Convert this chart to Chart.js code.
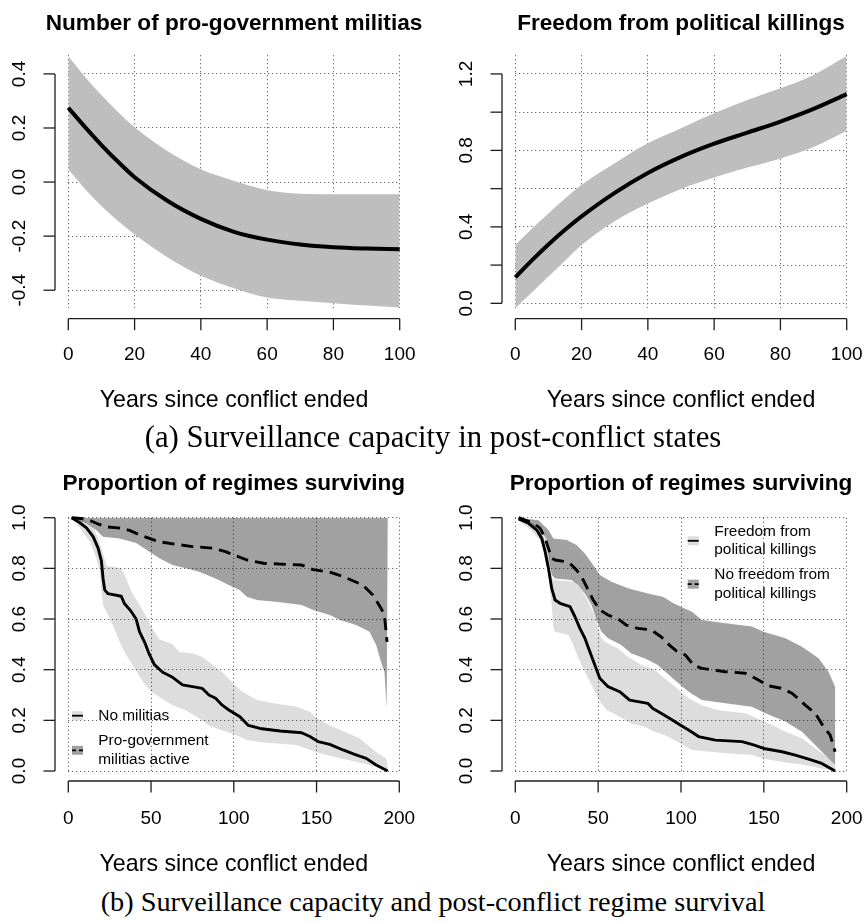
<!DOCTYPE html>
<html><head><meta charset="utf-8">
<script src="https://cdn.jsdelivr.net/npm/chart.js@4"></script>
<style>
html,body{margin:0;padding:0;background:#fff;width:866px;height:923px;overflow:hidden;position:relative;}
canvas{position:absolute;}
.cap{position:absolute;left:0;width:866px;text-align:center;font-family:"Liberation Serif",serif;color:#000;white-space:nowrap;z-index:5;}
</style></head><body>
<canvas id="c1"></canvas>
<canvas id="c2"></canvas>
<canvas id="c3"></canvas>
<canvas id="c4"></canvas>
<div class="cap" id="capA">(a) Surveillance capacity in post-conflict states</div>
<div class="cap" id="capB">(b) Surveillance capacity and post-conflict regime survival</div>
<script>
// ---------------- DATA ----------------
// Panel (a) left/right: x = years since conflict ended
const yearsTop = [0, 5, 10, 15, 20, 30, 40, 50, 60, 70, 80, 90, 100];
const militiaMean  = [0.275, 0.204, 0.137, 0.075, 0.018, -0.070, -0.136, -0.184, -0.213, -0.231, -0.241, -0.246, -0.249];
const militiaUpper = [0.465, 0.390, 0.322, 0.259, 0.203, 0.114, 0.047, 0.004, -0.030, -0.043, -0.045, -0.045, -0.045];
const militiaLower = [0.047, -0.025, -0.089, -0.144, -0.193, -0.279, -0.347, -0.393, -0.427, -0.439, -0.448, -0.457, -0.464];
const killingsMean  = [0.136, 0.225, 0.308, 0.385, 0.455, 0.578, 0.682, 0.766, 0.835, 0.893, 0.951, 1.017, 1.094];
const killingsUpper = [0.305, 0.390, 0.470, 0.548, 0.620, 0.733, 0.837, 0.916, 0.994, 1.064, 1.125, 1.195, 1.294];
const killingsLower = [-0.026, 0.056, 0.140, 0.223, 0.305, 0.430, 0.522, 0.598, 0.658, 0.710, 0.758, 0.818, 0.902];

// Panel (b) left: survival curves [years, proportion]
const noMilitiasLine = [[2,1.0],[7,0.98],[11,0.96],[15,0.925],[18,0.88],[20,0.83],[21,0.76],[22,0.715],[24,0.70],[32,0.69],[34,0.66],[38,0.63],[41,0.60],[43,0.55],[46,0.51],[49,0.46],[52,0.42],[57,0.39],[63,0.37],[69,0.34],[81,0.326],[85,0.30],[89,0.287],[93,0.26],[97,0.241],[103.7,0.214],[108.8,0.18],[115.8,0.168],[128,0.158],[141,0.151],[146,0.136],[151,0.116],[158,0.105],[166,0.083],[173,0.066],[180,0.05],[186,0.024],[193,0.0]];
const noMilitiasUpper = [[2,1.0],[10,0.99],[15,0.96],[18,0.92],[21,0.86],[23,0.81],[32,0.80],[35,0.76],[38,0.71],[43,0.655],[48,0.60],[52,0.55],[55,0.52],[63,0.50],[67,0.47],[75,0.465],[81,0.45],[87,0.42],[93,0.39],[99,0.35],[105,0.313],[114,0.28],[124,0.267],[138,0.254],[146,0.234],[150,0.208],[158,0.18],[167,0.155],[176,0.129],[182,0.096],[187,0.07],[192,0.05],[193,0.02]];
const noMilitiasLower = [[2,1.0],[7,0.96],[13,0.905],[17,0.84],[19,0.787],[20,0.71],[21,0.655],[24,0.616],[28,0.56],[31,0.51],[35,0.458],[40,0.405],[45,0.353],[50,0.313],[55,0.293],[63,0.26],[71,0.24],[79,0.208],[85,0.18],[93,0.16],[99,0.148],[108,0.122],[118,0.113],[138,0.103],[146,0.083],[154,0.066],[164,0.05],[174,0.037],[182,0.024],[190,0.01],[193,0.0]];
const militiasLine = [[2,1.0],[11,0.995],[17,0.978],[23,0.964],[30,0.96],[37,0.95],[44,0.93],[49,0.918],[55,0.905],[65,0.895],[75,0.886],[87,0.88],[95,0.866],[100,0.853],[108,0.833],[118,0.82],[141,0.813],[148,0.795],[158,0.785],[166,0.768],[178,0.734],[184,0.695],[189,0.642],[191,0.616],[192.6,0.51]];
const militiasUpper = [[2,1.0],[193,1.0]];
const militiasLower = [[2,1.0],[11,0.978],[17,0.95],[21,0.925],[31,0.918],[41,0.90],[49,0.866],[55,0.84],[63,0.813],[71,0.80],[79,0.787],[89,0.76],[97,0.734],[103.7,0.714],[107.8,0.688],[114,0.675],[128,0.666],[141,0.655],[148,0.636],[158,0.616],[164,0.596],[174,0.576],[182,0.55],[186,0.497],[189,0.43],[191,0.392],[192.4,0.247]];

// Panel (b) right
const freedomLine = [[2,0.995],[8,0.978],[13,0.951],[16,0.918],[18,0.866],[20,0.80],[22,0.72],[24,0.675],[27,0.662],[33,0.649],[36,0.609],[39,0.563],[42,0.524],[45,0.471],[48,0.418],[51,0.366],[56,0.333],[63,0.313],[69,0.28],[80,0.267],[83,0.247],[88,0.228],[95,0.20],[100,0.18],[104.6,0.162],[110.6,0.136],[120.7,0.122],[136.8,0.116],[143.8,0.103],[149.9,0.089],[161,0.076],[169,0.063],[177,0.047],[185,0.03],[193,0.0]];
const freedomUpper = [[2,1.0],[14,0.97],[19,0.918],[21,0.853],[22,0.76],[24,0.754],[36,0.747],[40,0.72],[43,0.68],[46,0.642],[49,0.596],[51,0.543],[52,0.524],[54,0.51],[62,0.484],[68,0.451],[76,0.418],[84,0.40],[90,0.366],[97,0.33],[104.6,0.287],[112.6,0.26],[122.7,0.24],[138.8,0.228],[145.8,0.208],[154.9,0.182],[163,0.155],[173,0.129],[181,0.089],[188,0.057],[193,0.024]];
const freedomLower = [[2,0.99],[8,0.958],[14,0.918],[18,0.866],[20,0.774],[22,0.655],[23,0.563],[24,0.55],[32,0.537],[35,0.497],[38,0.445],[42,0.392],[46,0.34],[51,0.274],[55,0.241],[63,0.214],[70,0.188],[78,0.175],[84,0.155],[90,0.142],[97,0.118],[106.6,0.083],[126.8,0.07],[142.8,0.063],[150.9,0.047],[163,0.034],[175,0.024],[185,0.01],[193,0.0]];
const noFreedomLine = [[2,1.0],[11,0.978],[15,0.958],[18,0.918],[20,0.879],[22,0.84],[24,0.833],[31,0.826],[34,0.813],[37,0.793],[40,0.767],[43,0.728],[47,0.675],[51,0.636],[56,0.616],[63,0.596],[67,0.576],[74,0.563],[82,0.557],[88,0.53],[93,0.497],[97,0.475],[102.6,0.458],[107.6,0.418],[112.6,0.405],[126.8,0.392],[138.8,0.386],[144.8,0.366],[152.9,0.336],[161,0.326],[167,0.307],[175,0.26],[181,0.228],[186,0.175],[190,0.142],[193,0.076]];
const noFreedomUpper = [[2,1.0],[14,0.99],[20,0.951],[23,0.918],[31,0.912],[37,0.892],[42,0.859],[47,0.813],[51,0.774],[58,0.747],[68,0.721],[80,0.701],[89,0.688],[96,0.66],[106.6,0.629],[112.6,0.596],[126.8,0.583],[142.8,0.57],[149.9,0.55],[163,0.524],[173,0.491],[183,0.445],[189,0.392],[193,0.333]];
const noFreedomLower = [[2,0.99],[14,0.958],[19,0.918],[20,0.853],[22,0.774],[24,0.76],[34,0.754],[38,0.734],[42,0.701],[46,0.655],[49,0.596],[52,0.55],[56,0.524],[64,0.497],[70,0.464],[78,0.445],[86,0.418],[96,0.36],[104.6,0.313],[112.6,0.28],[126.8,0.267],[142.8,0.254],[150.9,0.228],[163,0.195],[173,0.155],[181,0.103],[187,0.063],[193,0.024]];

// Ticks and labels
const xTicksTop = [0, 20, 40, 60, 80, 100];
const xLabelsTop = ['0', '20', '40', '60', '80', '100'];
const xTicksBottom = [0, 50, 100, 150, 200];
const xLabelsBottom = ['0', '50', '100', '150', '200'];
const yTicksMilitia = [-0.4, -0.2, 0, 0.2, 0.4];
const yLabelsMilitia = ['-0.4', '-0.2', '0.0', '0.2', '0.4'];
const yTicksKillings = [0, 0.2, 0.4, 0.6, 0.8, 1.0, 1.2];
const yLabelsKillings = ['0.0', '', '0.4', '', '0.8', '', '1.2'];
const yTicksSurv = [0, 0.2, 0.4, 0.6, 0.8, 1.0];
const yLabelsSurv = ['0.0', '0.2', '0.4', '0.6', '0.8', '1.0'];

const titles = ['Number of pro-government militias', 'Freedom from political killings', 'Proportion of regimes surviving', 'Proportion of regimes surviving'];
const xAxisTitle = 'Years since conflict ended';
const legendLeft = [['No militias'], ['Pro-government', 'militias active']];
const legendRight = [['Freedom from', 'political killings'], ['No freedom from', 'political killings']];

// ---------------- HELPERS ----------------
const SANS = '"Liberation Sans", Arial, Helvetica, sans-serif';
const toXY = (xs, ys) => xs.map((x, i) => ({x: x, y: ys[i]}));
const pairs = (arr) => arr.map(p => ({x: p[0], y: p[1]}));
const polygon = (upper, lower) => pairs(upper).concat(pairs(lower).reverse());

const rStyle = {
  id: 'rStyle',
  afterDraw(chart, args, o) {
    const ctx = chart.ctx, xs = chart.scales.x, ys = chart.scales.y, ca = chart.chartArea;
    ctx.save();
    ctx.strokeStyle = '#1e1e1e'; ctx.fillStyle = '#000'; ctx.lineWidth = 1.3; ctx.setLineDash([]);
    const seg = (x1, y1, x2, y2) => { ctx.beginPath(); ctx.moveTo(x1, y1); ctx.lineTo(x2, y2); ctx.stroke(); };
    // y axis
    const ax = ca.left - o.yAxisGap;
    const yv = ys.ticks.map(t => t.value);
    seg(ax, ys.getPixelForValue(Math.max(...yv)), ax, ys.getPixelForValue(Math.min(...yv)));
    ctx.font = '19px ' + SANS;
    ys.ticks.forEach((t, i) => {
      const py = ys.getPixelForValue(t.value);
      seg(ax - o.tickLen, py, ax, py);
      const lab = o.yLabels[i];
      if (lab) {
        ctx.save(); ctx.translate(ax - o.yLabelOffset, py); ctx.rotate(-Math.PI / 2);
        ctx.textAlign = 'center'; ctx.textBaseline = 'middle'; ctx.fillText(lab, 0, 0); ctx.restore();
      }
    });
    // x axis
    const xv = xs.ticks.map(t => t.value);
    seg(xs.getPixelForValue(Math.min(...xv)), o.axisY, xs.getPixelForValue(Math.max(...xv)), o.axisY);
    ctx.textAlign = 'center'; ctx.textBaseline = 'middle';
    xs.ticks.forEach((t, i) => {
      const px = xs.getPixelForValue(t.value);
      seg(px, o.axisY, px, o.axisY + o.tickLen);
      ctx.fillText(o.xLabels[i], px, o.tickLabelY);
    });
    const cx = (ca.left + ca.right) / 2;
    ctx.font = '23.2px ' + SANS;
    ctx.fillText(o.xTitle, cx, o.xTitleY);
    ctx.font = 'bold 22.6px ' + SANS;
    ctx.fillText(o.title, cx, o.titleY);
    // legend
    if (o.legend) {
      const L = o.legend;
      ctx.font = '15.4px ' + SANS; ctx.textAlign = 'left';
      L.items.forEach((it, i) => {
        const cy = L.ys[i];
        ctx.fillStyle = it.fill;
        ctx.fillRect(L.x, cy - 4.5, 11, 9);
        ctx.strokeStyle = '#000'; ctx.lineWidth = 1.8; ctx.setLineDash(it.dash);
        seg(L.x, cy, L.x + 11, cy);
        ctx.setLineDash([]);
        ctx.fillStyle = '#000';
        const n = it.lines.length;
        it.lines.forEach((s, k) => ctx.fillText(s, L.textX, cy + (k - (n - 1) / 2) * 18.5));
      });
    }
    ctx.restore();
  }
};

function gridScale(min, max, ticks) {
  return {
    type: 'linear', min: min, max: max,
    afterBuildTicks: (axis) => { axis.ticks = ticks.map(v => ({value: v})); },
    ticks: {display: false},
    grid: {display: true, drawTicks: false, color: '#6e6e6e', lineWidth: 1},
    border: {display: false, dash: [1.3, 2.7]}
  };
}

function makePanel(id, P) {
  const cv = document.getElementById(id);
  cv.width = P.canvas.w; cv.height = P.canvas.h;
  cv.style.left = P.canvas.x + 'px'; cv.style.top = P.canvas.y + 'px';
  cv.style.width = P.canvas.w + 'px'; cv.style.height = P.canvas.h + 'px';
  const pad = {
    left: P.area.l - P.canvas.x, right: P.canvas.x + P.canvas.w - P.area.r,
    top: P.area.t - P.canvas.y, bottom: P.canvas.y + P.canvas.h - P.area.b
  };
  return new Chart(cv, {
    type: 'line',
    data: {datasets: P.datasets},
    options: {
      responsive: false, animation: false, devicePixelRatio: 1, events: [],
      layout: {padding: pad},
      scales: {x: gridScale(P.xMin, P.xMax, P.xTicks), y: gridScale(P.yMin, P.yMax, P.yTicks)},
      elements: {point: {radius: 0}},
      plugins: {legend: {display: false}, tooltip: {enabled: false}, title: {display: false}, rStyle: P.r}
    },
    plugins: [rStyle]
  });
}

const band = (data, color, order, extra) => Object.assign({data: data, borderWidth: 0, borderColor: 'rgba(0,0,0,0)', backgroundColor: color, pointRadius: 0, order: order, clip: false}, extra || {});
const curve = (data, width, dash, order, extra) => Object.assign({data: data, borderColor: '#000', borderWidth: width, borderDash: dash, borderCapStyle: 'butt', borderJoinStyle: 'round', pointRadius: 0, fill: false, order: order, clip: false}, extra || {});
const smooth = {cubicInterpolationMode: 'monotone'};
const LIGHT = 'rgba(0,0,0,0.135)', DARK = 'rgba(0,0,0,0.37)';

const rTop = {yAxisGap: 13.3, tickLen: 11.5, yLabelOffset: 35.5, axisY: 318.7, tickLabelY: 355, xTitleY: 400.5, titleY: 23.3, xTitle: xAxisTitle};
const rBot = {yAxisGap: 13.3, tickLen: 11.5, yLabelOffset: 35.5, axisY: 321, tickLabelY: 359.2, xTitleY: 404.5, titleY: 23.5, xTitle: xAxisTitle};

makePanel('c1', {
  canvas: {x: 0, y: 0, w: 433, h: 425}, area: {l: 68.3, r: 399.7, t: 55, b: 308.3},
  xMin: 0, xMax: 100, xTicks: xTicksTop, yMin: -0.467, yMax: 0.47, yTicks: yTicksMilitia,
  datasets: [
    band(toXY(yearsTop, militiaUpper), '#bebebe', 3, Object.assign({fill: '+1'}, smooth)),
    band(toXY(yearsTop, militiaLower), '#bebebe', 3, Object.assign({fill: false}, smooth)),
    curve(toXY(yearsTop, militiaMean), 4, [], 1, smooth)
  ],
  r: Object.assign({}, rTop, {title: titles[0], xLabels: xLabelsTop, yLabels: yLabelsMilitia})
});

makePanel('c2', {
  canvas: {x: 433, y: 0, w: 433, h: 425}, area: {l: 515.3, r: 846.7, t: 55, b: 308.3},
  xMin: 0, xMax: 100, xTicks: xTicksTop, yMin: -0.026, yMax: 1.299, yTicks: yTicksKillings,
  datasets: [
    band(toXY(yearsTop, killingsUpper), '#bebebe', 3, Object.assign({fill: '+1'}, smooth)),
    band(toXY(yearsTop, killingsLower), '#bebebe', 3, Object.assign({fill: false}, smooth)),
    curve(toXY(yearsTop, killingsMean), 4, [], 1, smooth)
  ],
  r: Object.assign({}, rTop, {title: titles[1], xLabels: xLabelsTop, yLabels: yLabelsKillings})
});

makePanel('c3', {
  canvas: {x: 0, y: 460, w: 433, h: 425}, area: {l: 68.3, r: 399.3, t: 517.7, b: 771},
  xMin: 0, xMax: 200, xTicks: xTicksBottom, yMin: 0, yMax: 1, yTicks: yTicksSurv,
  datasets: [
    band(polygon(noMilitiasUpper, noMilitiasLower), LIGHT, 5, {fill: 'shape'}),
    band(polygon(militiasUpper, militiasLower), DARK, 4, {fill: 'shape'}),
    curve(pairs(noMilitiasLine), 2.9, [], 2),
    curve(pairs(militiasLine), 2.9, [12, 7], 1)
  ],
  r: Object.assign({}, rBot, {title: titles[2], xLabels: xLabelsBottom, yLabels: yLabelsSurv,
    legend: {x: 72, textX: 98.3, ys: [255.7, 290.3], items: [
      {fill: '#dddddd', dash: [], lines: legendLeft[0]},
      {fill: '#a1a1a1', dash: [4, 3], lines: legendLeft[1]}]}})
});

makePanel('c4', {
  canvas: {x: 433, y: 460, w: 433, h: 425}, area: {l: 515.3, r: 846.7, t: 517.7, b: 771},
  xMin: 0, xMax: 200, xTicks: xTicksBottom, yMin: 0, yMax: 1, yTicks: yTicksSurv,
  datasets: [
    band(polygon(freedomUpper, freedomLower), LIGHT, 5, {fill: 'shape'}),
    band(polygon(noFreedomUpper, noFreedomLower), DARK, 4, {fill: 'shape'}),
    curve(pairs(freedomLine), 2.9, [], 2),
    curve(pairs(noFreedomLine), 2.9, [12, 7], 1)
  ],
  r: Object.assign({}, rBot, {title: titles[3], xLabels: xLabelsBottom, yLabels: yLabelsSurv,
    legend: {x: 254.7, textX: 281.3, ys: [80.8, 124.2], items: [
      {fill: '#dddddd', dash: [], lines: legendRight[0]},
      {fill: '#a1a1a1', dash: [4, 3], lines: legendRight[1]}]}})
});

// captions (serif), fitted to the reference widths
function fitCaption(id, targetWidth, centerY) {
  const el = document.getElementById(id);
  const c = document.createElement('canvas').getContext('2d');
  c.font = '100px "Liberation Serif"';
  const size = 100 * targetWidth / c.measureText(el.textContent).width;
  el.style.fontSize = size + 'px';
  el.style.lineHeight = size + 'px';
  el.style.top = (centerY - 0.5 * size) + 'px';
}
fitCaption('capA', 577, 437);
fitCaption('capB', 665, 902);
</script>
</body></html>
